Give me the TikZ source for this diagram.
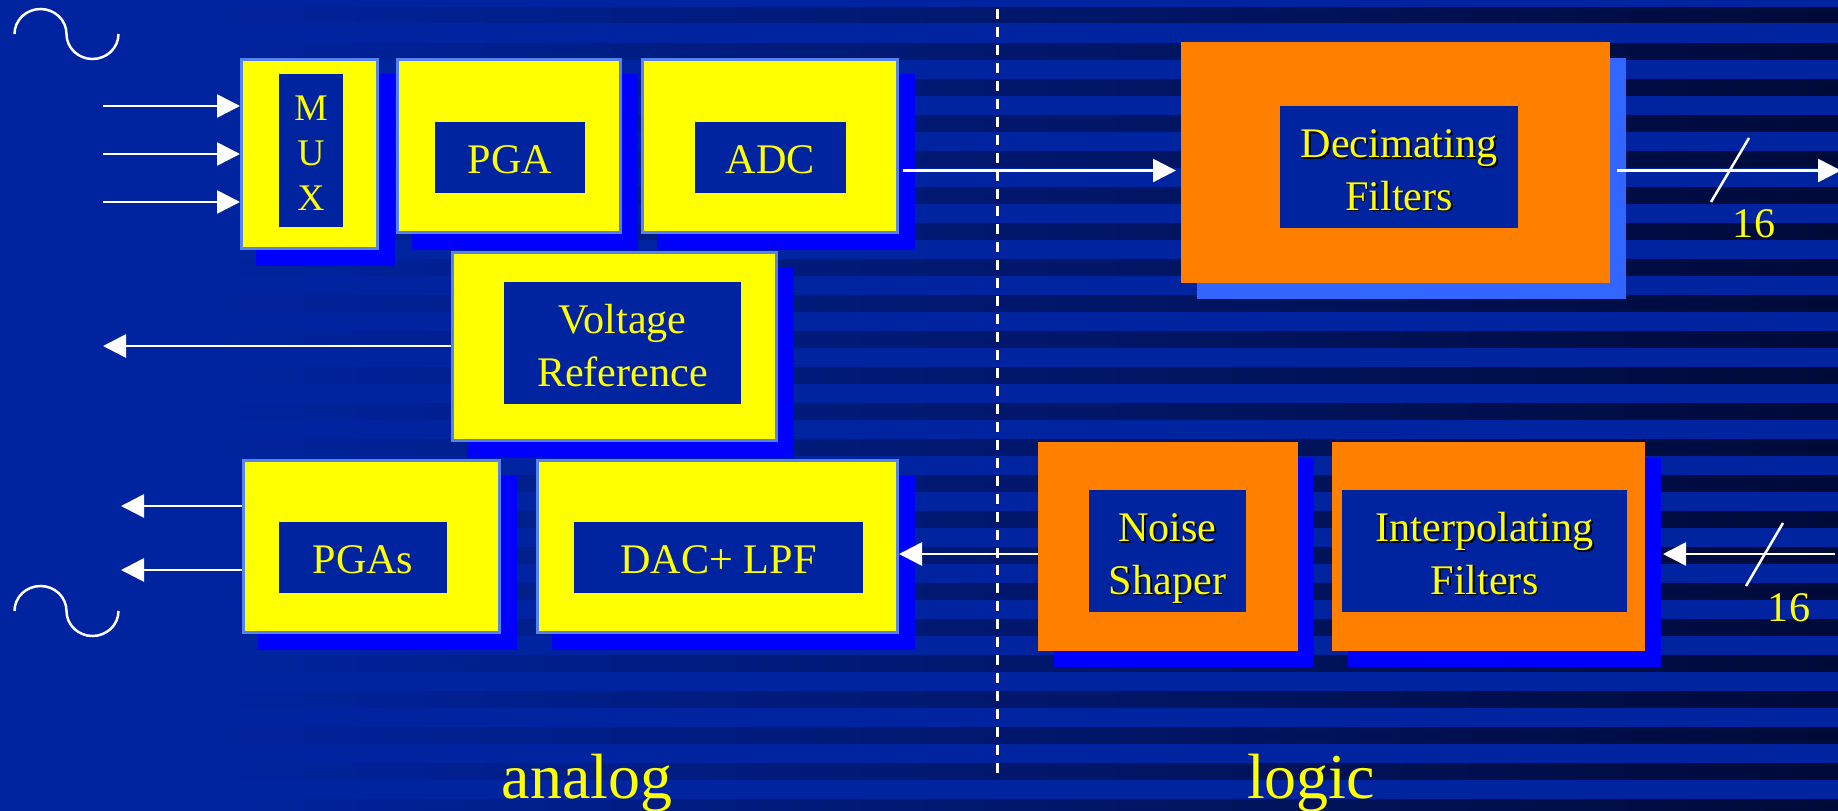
\documentclass[tikz,border=0pt]{standalone}
\usepackage{fontspec}
\setmainfont{Liberation Serif}
\usetikzlibrary{shadows,arrows.meta}

\definecolor{bandlight}{RGB}{0,36,160}
\definecolor{banddark}{RGB}{0,10,56}
\definecolor{edgeblue}{RGB}{85,130,235}
\definecolor{liftblue}{RGB}{51,102,255}
\definecolor{boxorange}{RGB}{255,128,0}
\definecolor{boxyellow}{RGB}{255,255,0}
\definecolor{boxblue}{RGB}{0,0,255}

\newcommand{\shtext}[1]{\makebox[0pt][l]{\hspace{0.018cm}\raisebox{-0.018cm}{\color{black}#1}}#1}

\tikzset{
  yellowbox/.style={rectangle, fill=boxyellow, draw=edgeblue, line width=0.03cm,
    general shadow={fill=boxblue, draw=boxblue, shadow xshift=0.16cm, shadow yshift=-0.16cm}},
  orangebox/.style={rectangle, fill=boxorange, outer sep=0pt,
    general shadow={fill=#1, shadow xshift=0.16cm, shadow yshift=-0.16cm}},
  orangebox/.default=boxblue,
  inbox/.style={rectangle, fill=bandlight, text=boxyellow, inner sep=0pt, outer sep=0pt, align=center,
    font=\fontsize{12}{14.8}\selectfont},
  oneline/.style={text height=0.31cm, text depth=0cm},
  twoline/.style={text height=0.86cm, text depth=0cm},
  wire/.style={draw=white, line width=0.027cm, -{Triangle[width=0.23cm,length=0.23cm]}},
  slash/.style={draw=white, line width=0.025cm},
  sine/.style={draw=white, line width=0.025cm},
  tag/.style={text=boxyellow, inner sep=0pt, anchor=base},
}

\begin{document}
\begin{tikzpicture}[x=1cm,y=-1cm]

\useasboundingbox (0,0) rectangle (18.38,8.11);
\fill[bandlight] (0,0) rectangle (18.38,8.11);
\foreach \i in {0,...,22} {
  \shade[left color=bandlight, right color=banddark] (2,0.07+0.36*\i) rectangle (18.38,0.23+0.36*\i);
}

\coordinate (divtop) at (9.975,0.09);
\coordinate (divbot) at (9.975,7.73);
\draw[white, line width=0.025cm, dash pattern=on 0.1cm off 0.0795cm] (divtop) -- (divbot);

\draw[sine] (0.145,0.34) arc (180:0:0.26cm and 0.25cm) arc (180:360:0.26cm and 0.25cm);
\draw[sine] (0.145,6.11) arc (180:0:0.26cm and 0.25cm) arc (180:360:0.26cm and 0.25cm);

% analog side
\node[yellowbox, minimum width=1.36cm, minimum height=1.89cm] (mux) at (3.095,1.54) {};
\node[inbox, minimum width=0.64cm, minimum height=1.53cm, text height=1.19cm, text depth=0cm,
  font=\fontsize{10.7}{12.7}\selectfont] (muxin) at (3.11,1.505) {M\\U\\X};
\node[yellowbox, minimum width=2.23cm, minimum height=1.73cm] (pga) at (5.09,1.46) {};
\node[inbox, oneline, minimum width=1.50cm, minimum height=0.71cm] (pgain) at (5.10,1.575) {PGA};
\node[yellowbox, minimum width=2.55cm, minimum height=1.73cm] (adc) at (7.70,1.46) {};
\node[inbox, oneline, minimum width=1.51cm, minimum height=0.71cm] (adcin) at (7.705,1.575) {ADC};
\node[yellowbox, minimum width=3.24cm, minimum height=1.88cm] (vref) at (6.14,3.465) {};
\node[inbox, twoline, minimum width=2.37cm, minimum height=1.22cm] (vrefin) at (6.225,3.43) {Voltage\\Reference};
\node[yellowbox, minimum width=2.56cm, minimum height=1.72cm] (pgas) at (3.715,5.465) {};
\node[inbox, oneline, minimum width=1.68cm, minimum height=0.71cm] (pgasin) at (3.63,5.575) {PGAs};
\node[yellowbox, minimum width=3.60cm, minimum height=1.72cm] (dac) at (7.175,5.465) {};
\node[inbox, oneline, minimum width=2.89cm, minimum height=0.71cm] (dacin) at (7.185,5.575) {DAC+ LPF};

% logic side
\node[orangebox=liftblue, minimum width=4.29cm, minimum height=2.41cm] (dec) at (13.955,1.625) {};
\node[inbox, twoline, minimum width=2.38cm, minimum height=1.22cm] (decin) at (13.99,1.67) {\shtext{Decimating}\\\shtext{Filters}};
\node[orangebox, minimum width=2.60cm, minimum height=2.09cm] (noise) at (11.68,5.465) {};
\node[inbox, twoline, minimum width=1.57cm, minimum height=1.22cm] (noisein) at (11.675,5.51) {\shtext{Noise}\\\shtext{Shaper}};
\node[orangebox, minimum width=3.13cm, minimum height=2.09cm] (interp) at (14.885,5.465) {};
\node[inbox, twoline, minimum width=2.85cm, minimum height=1.22cm] (interpin) at (14.845,5.51) {\shtext{Interpolating}\\\shtext{Filters}};

\coordinate (chana) at (1.03,1.06);
\coordinate (chanb) at (1.03,1.54);
\coordinate (chanc) at (1.03,2.02);
\draw[wire] (chana) -- (chana -| mux.west);
\draw[wire] (chanb) -- (chanb -| mux.west);
\draw[wire] (chanc) -- (chanc -| mux.west);

\coordinate (vrefout) at (1.03,3.46);
\draw[wire] (vrefout -| vref.west) -- (vrefout);

\coordinate (outa) at (1.21,5.06);
\coordinate (outb) at (1.21,5.70);
\draw[wire] (outa -| pgas.west) -- (outa);
\draw[wire] (outb -| pgas.west) -- (outb);

\coordinate (adcout) at (9.03,1.705);
\draw[wire, shorten >=0.05cm] (adcout) -- (adcout -| dec.west);
\draw[wire] ([yshift=-0.075cm]noise.west) -- ([yshift=-0.075cm]dac.east);

\coordinate (decout) at (16.17,1.705);
\coordinate (busout) at (18.41,1.705);
\draw[wire] (decout) -- (busout);
\coordinate (busin) at (18.35,5.54);
\coordinate (interptip) at (16.63,5.54);
\draw[wire] (busin) -- (interptip);

\coordinate (slashat) at (17.49,1.38);
\coordinate (slashbt) at (17.11,2.02);
\draw[slash] (slashat) -- (slashbt);
\coordinate (slashab) at (17.83,5.23);
\coordinate (slashbb) at (17.46,5.86);
\draw[slash] (slashab) -- (slashbb);

\node[tag, font=\fontsize{12}{14}\selectfont] (widtha) at (17.54,2.37) {16};
\node[tag, font=\fontsize{12}{14}\selectfont] (widthb) at (17.89,6.21) {16};

\node[tag, font=\fontsize{18.2}{20}\selectfont] (analog) at (5.87,7.98) {analog};
\node[tag, font=\fontsize{18.2}{20}\selectfont] (logic) at (13.11,7.98) {logic};

\end{tikzpicture}
\end{document}
